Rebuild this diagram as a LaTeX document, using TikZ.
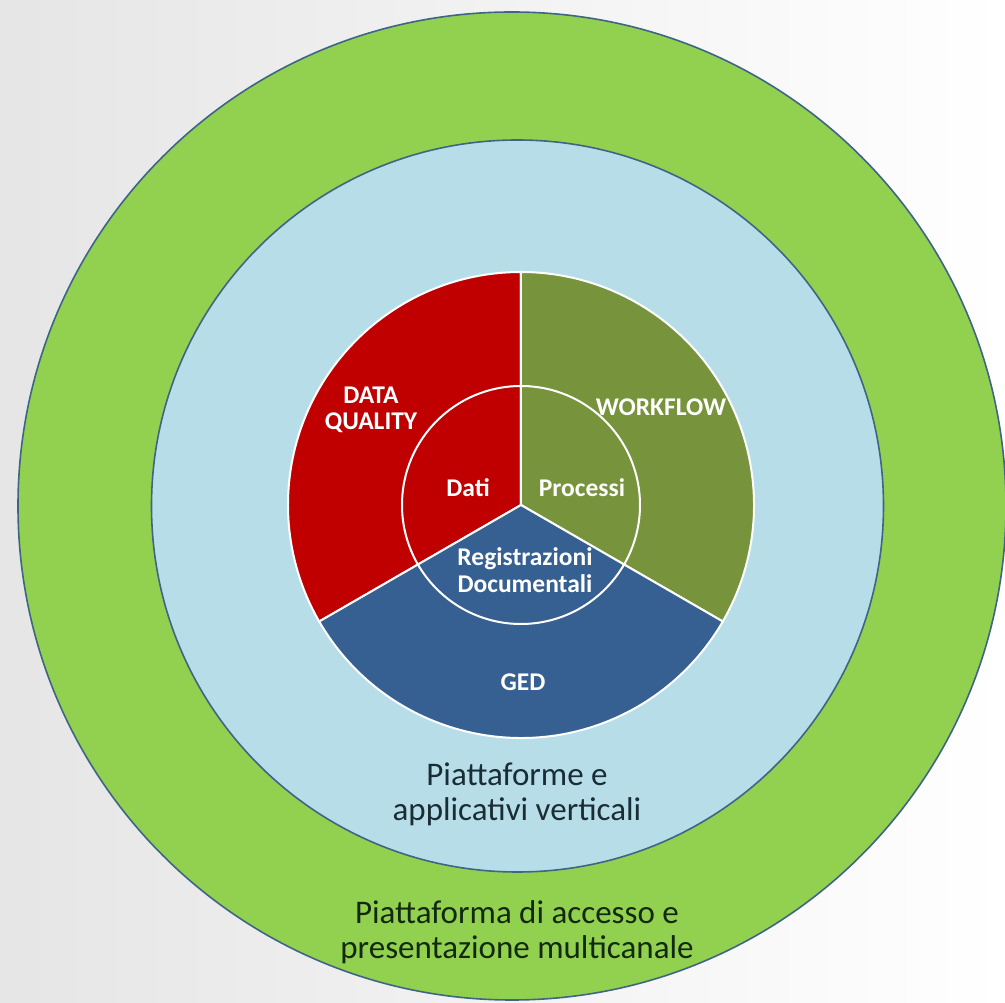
\documentclass[tikz,border=0pt]{standalone}
\usepackage{fontspec}
\setmainfont{Carlito}
\definecolor{ringgreen}{HTML}{92D050}
\definecolor{ringblue}{HTML}{B7DEE8}
\definecolor{ringline}{HTML}{3F6584}
\definecolor{dqred}{HTML}{C00000}
\definecolor{wfgreen}{HTML}{77933C}
\definecolor{gedblue}{HTML}{376092}
\definecolor{darktext}{HTML}{1A2C34}
\definecolor{greentext}{HTML}{12290D}

\begin{document}
\begin{tikzpicture}[x=1pt, y=1pt,
    ring/.style={draw=ringline, line width=1.6pt},
    sector/.style={draw=white, line width=2pt},
    boldlabel/.style={text=white, font=\fontsize{25.5}{26.5}\selectfont\bfseries, align=center},
    ringlabel/.style={font=\fontsize{33}{35}\selectfont, align=center}]

    % background
    \shade[left color=gray!20, right color=white] (-521,-498) rectangle (484,505);
    \useasboundingbox (-521,-498) rectangle (484,505);

    % outer rings
    \filldraw[ring, fill=ringgreen] (-9,-1) circle[radius=494];
    \filldraw[ring, fill=ringblue] (-3.5,-1) circle[radius=366];

    % pie
    \filldraw[sector, fill=dqred] (0,0) -- (90:233) arc[start angle=90, end angle=210, radius=233] -- cycle;
    \filldraw[sector, fill=wfgreen] (0,0) -- (-30:233) arc[start angle=-30, end angle=90, radius=233] -- cycle;
    \filldraw[sector, fill=gedblue] (0,0) -- (210:233) arc[start angle=210, end angle=330, radius=233] -- cycle;
    \draw[sector] (0,0) circle[radius=119];

    \node[boldlabel] (dq) at (-150, 95) {DATA\\QUALITY};
    \node[boldlabel] (wf) at (140, 98) {WORKFLOW};
    \node[boldlabel] (dati) at (-53, 17) {Dati};
    \node[boldlabel] (proc) at (61, 17) {Processi};
    \node[boldlabel] (reg) at (4, -65) {Registrazioni\\Documentali};
    \node[boldlabel] (ged) at (2, -177) {GED};

    \node[ringlabel, text=darktext] (vert) at (-4, -289) {Piattaforme e\\applicativi verticali};
    \node[ringlabel, text=greentext] (multi) at (-4, -427) {Piattaforma di accesso e\\presentazione multicanale};

\end{tikzpicture}
\end{document}
